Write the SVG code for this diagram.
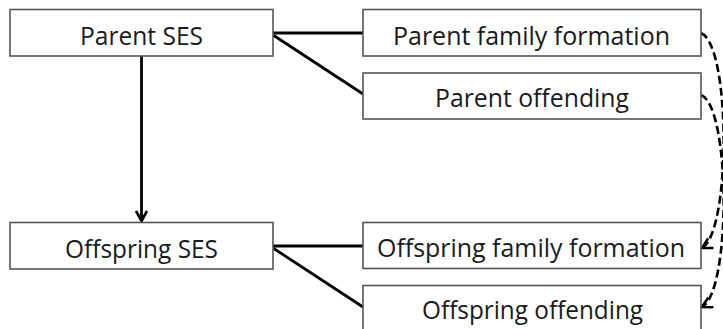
<svg xmlns="http://www.w3.org/2000/svg" width="723" height="329" viewBox="0 0 723 329">
<style>
.box{fill:#fff;stroke:#555;stroke-width:1.6}
.lbl{font-family:"Open Sans","Liberation Sans",sans-serif;font-size:26px;fill:#1a1a1a;text-anchor:middle}
.conn{stroke:#000;stroke-width:2.8;fill:none}
.dash{stroke:#000;stroke-width:2.6;fill:none;stroke-dasharray:8 4}
</style>
<defs>
<marker id="open" markerWidth="14" markerHeight="14" refX="11" refY="6.5" orient="auto" markerUnits="userSpaceOnUse">
<path d="M1,1 L11,6.5 L1,12" fill="none" stroke="#000" stroke-width="2.6"/>
</marker>
</defs>
<rect width="723" height="329" fill="#fff"/>
<g id="connectors">
<line class="conn" x1="141.5" y1="56" x2="141.5" y2="221" marker-end="url(#open)"/>
<line class="conn" x1="273" y1="33" x2="363" y2="33"/>
<line class="conn" x1="273" y1="35" x2="363" y2="94"/>
<line class="conn" x1="273" y1="246" x2="363" y2="246"/>
<line class="conn" x1="273" y1="248" x2="363" y2="307"/>
<path class="dash" d="M701,33 C731,45 731,232 702,248" marker-end="url(#open)"/>
<path class="dash" d="M701,95 C731,107 731,292 702,307" marker-end="url(#open)"/>
</g>
<g id="parent-ses">
<rect class="box" x="10" y="9.5" width="263" height="46.5"/>
<text class="lbl" x="141.5" y="45" textLength="123" lengthAdjust="spacingAndGlyphs">Parent SES</text>
</g>
<g id="parent-family-formation">
<rect class="box" x="363" y="9.5" width="338" height="46.5"/>
<text class="lbl" x="531.5" y="45" textLength="277" lengthAdjust="spacingAndGlyphs">Parent family formation</text>
</g>
<g id="parent-offending">
<rect class="box" x="363" y="73" width="338" height="46"/>
<text class="lbl" x="532" y="107" textLength="194" lengthAdjust="spacingAndGlyphs">Parent offending</text>
</g>
<g id="offspring-ses">
<rect class="box" x="10" y="222.5" width="263" height="46.5"/>
<text class="lbl" x="141.5" y="258" textLength="153" lengthAdjust="spacingAndGlyphs">Offspring SES</text>
</g>
<g id="offspring-family-formation">
<rect class="box" x="363" y="222.5" width="338" height="46"/>
<text class="lbl" x="531" y="257" textLength="308" lengthAdjust="spacingAndGlyphs">Offspring family formation</text>
</g>
<g id="offspring-offending">
<rect class="box" x="363" y="285.5" width="338" height="47"/>
<text class="lbl" x="532.5" y="319" textLength="221" lengthAdjust="spacingAndGlyphs">Offspring offending</text>
</g>
</svg>
